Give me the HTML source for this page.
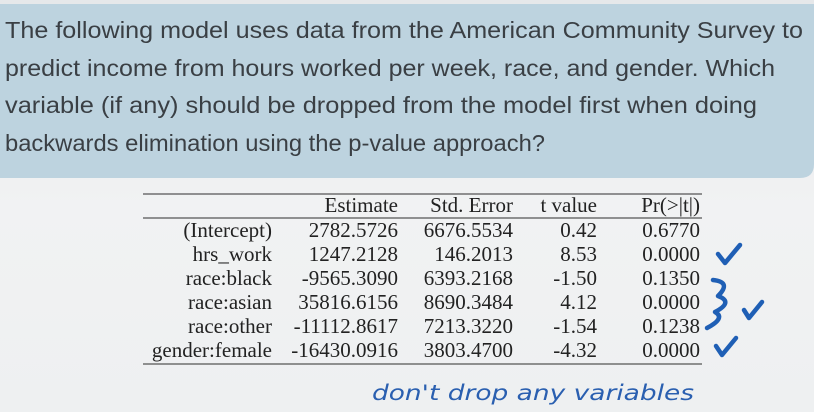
<!DOCTYPE html>
<html><head><meta charset="utf-8"><style>
html,body{margin:0;padding:0;background:#eceef0;}
svg{display:block}
</style></head><body>
<svg width="814" height="412" viewBox="0 0 814 412">
<defs><linearGradient id="bg" x1="0" y1="0" x2="0" y2="1"><stop offset="0" stop-color="#e6e8ea"/><stop offset="0.5" stop-color="#f1f2f3"/><stop offset="1" stop-color="#eef0f1"/></linearGradient></defs>
<rect width="814" height="412" fill="url(#bg)"/>
<path d="M0 4 H814 V164 Q814 178 800 178 H0 Z" fill="#bdd3df"/>
<g font-family="'Liberation Sans',sans-serif" font-size="23" fill="#3a3f44">
<text x="5" y="38" textLength="798" lengthAdjust="spacingAndGlyphs">The following model uses data from the American Community Survey to</text>
<text x="5" y="76" textLength="770" lengthAdjust="spacingAndGlyphs">predict income from hours worked per week, race, and gender. Which</text>
<text x="5" y="113" textLength="752" lengthAdjust="spacingAndGlyphs">variable (if any) should be dropped from the model first when doing</text>
<text x="5" y="151" textLength="540" lengthAdjust="spacingAndGlyphs">backwards elimination using the p-value approach?</text>
</g>
<g stroke="#555" stroke-width="1.3">
<line x1="143" y1="194" x2="702" y2="194"/><line x1="143" y1="218" x2="702" y2="218"/><line x1="143" y1="364" x2="702" y2="364"/>
</g>
<g id="tbl" font-family="'Liberation Serif',serif" font-size="21" fill="#222" text-anchor="end"></g>
<g fill="none" stroke="#1f5fb5" stroke-width="4.5" stroke-linecap="round" stroke-linejoin="round">
<path d="M718 254 L725 263 L740 245"/>
<path d="M713 280 Q732 282 718 296 Q734 302 715 312 Q726 318 707 328"/>
<path d="M744 310 L749 318 L762 302"/>
<path d="M716 346 L722 355 L736 338"/>
</g>
<text x="372" y="400" font-family="'DejaVu Sans',sans-serif" font-style="italic" font-size="21" fill="#2a5fb0" textLength="322" lengthAdjust="spacingAndGlyphs">don't drop any variables</text>
</svg>
<script>
const header=["Estimate","Std. Error","t value","Pr(>|t|)"];
const terms=["(Intercept)","hrs_work","race:black","race:asian","race:other","gender:female"];
const estimates=["2782.5726","1247.2128","-9565.3090","35816.6156","-11112.8617","-16430.0916"];
const stdErrors=["6676.5534","146.2013","6393.2168","8690.3484","7213.3220","3803.4700"];
const tValues=["0.42","8.53","-1.50","4.12","-1.54","-4.32"];
const pValues=["0.6770","0.0000","0.1350","0.0000","0.1238","0.0000"];
const g=document.getElementById('tbl');
const colX=[272,398,513,597,700];
function t(x,y,s,name){const e=document.createElementNS('http://www.w3.org/2000/svg','text');
e.setAttribute('x',x);e.setAttribute('y',y);e.textContent=s;


g.appendChild(e);}
header.forEach((h,i)=>t(colX[i+1],212,h,'header-'+i));
terms.forEach((r,i)=>{const y=237+i*24;
t(colX[0],y,r,'row-label');t(colX[1],y,estimates[i],'estimate-cell');t(colX[2],y,stdErrors[i],'std-error-cell');t(colX[3],y,tValues[i],'t-value-cell');t(colX[4],y,pValues[i],'p-value-cell');});
</script>
</body></html>
